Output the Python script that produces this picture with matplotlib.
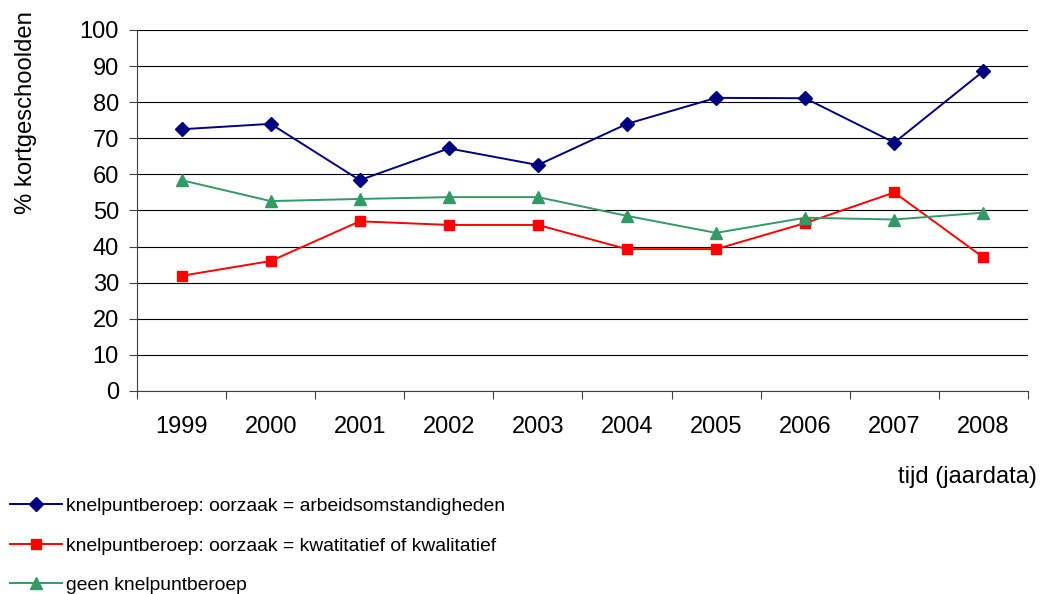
import numpy as np
import matplotlib
matplotlib.use("Agg")
import matplotlib.pyplot as plt
from matplotlib.lines import Line2D

plt.rcParams['font.family'] = ['Liberation Sans', 'DejaVu Sans']

years = ["1999", "2000", "2001", "2002", "2003", "2004", "2005", "2006", "2007", "2008"]
arbeid = [72.5, 74, 58.4, 67.2, 62.6, 74, 81.2, 81.1, 68.8, 88.6]
kwant = [31.9, 36, 47, 46, 46, 39.3, 39.3, 46.5, 55, 37]
geen = [58.4, 52.6, 53.2, 53.7, 53.7, 48.5, 43.8, 48, 47.5, 49.4]

labels = ["knelpuntberoep: oorzaak = arbeidsomstandigheden",
          "knelpuntberoep: oorzaak = kwatitatief of kwalitatief",
          "geen knelpuntberoep"]
colors = ["#000080", "#ff0000", "#339966"]
markers = ["D", "s", "^"]
msizes = [7, 7.5, 8.5]

fig = plt.figure(figsize=(10.42, 5.94), dpi=100)
ax = fig.add_axes([0.1315, 0.3418, 0.855, 0.6077])

x = np.arange(len(years))
for vals, c, m, ms in zip([arbeid, kwant, geen], colors, markers, msizes):
    ax.plot(x, vals, color=c, lw=1.4, marker=m, ms=ms, mec=c, mfc=c)

ax.set_ylim(0, 100)
ax.set_xlim(-0.5, len(years) - 0.5)
ax.set_yticks(np.arange(0, 101, 10))
ax.yaxis.grid(True, color="#000000", lw=0.8)
ax.set_axisbelow(True)
# Excel-style category axis: ticks between categories, labels centred
ax.set_xticks(np.arange(-0.5, len(years), 1))
ax.set_xticklabels([])
ax.set_xticks(x, minor=True)
ax.set_xticklabels(years, minor=True)
ax.tick_params(axis="x", which="minor", length=0, pad=18, labelsize=17)
ax.tick_params(axis="x", which="major", length=6, color="#404040")
ax.tick_params(axis="y", length=6, labelsize=17, pad=7, color="#404040")
for s in ["top", "right"]:
    ax.spines[s].set_visible(False)
ax.spines["left"].set_color("#404040")
ax.spines["bottom"].set_color("#404040")

ax.set_ylabel("% kortgeschoolden", fontsize=17.2)
ax.yaxis.set_label_coords(-0.112, 0.77)
fig.text(0.995, 0.197, "tijd (jaardata)", ha="right", va="center", fontsize=17)

handles = [Line2D([], [], color=c, lw=1.4, marker=m, ms=ms, mec=c, mfc=c)
           for c, m, ms in zip(colors, markers, msizes)]
fig.legend(handles, labels, loc="lower left", bbox_to_anchor=(0.0096, 0.0),
           frameon=False, fontsize=13.85, handlelength=2.72, handletextpad=0.2,
           labelspacing=1.14, borderaxespad=0, borderpad=0)

fig.savefig("out.png", dpi=100)
